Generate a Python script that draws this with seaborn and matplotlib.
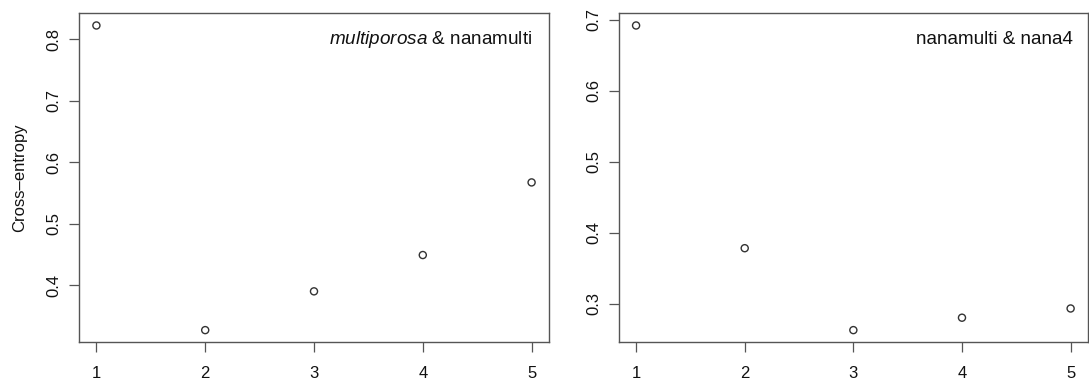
import matplotlib
matplotlib.use("Agg")
import matplotlib.pyplot as plt
import seaborn as sns
import pandas as pd

k_values = [1, 2, 3, 4, 5]
ce_left = [0.822, 0.327, 0.390, 0.449, 0.567]
ce_right = [0.692, 0.378, 0.2625, 0.280, 0.293]
label_left = r"$\it{multiporosa}$ & nanamulti"
label_right = "nanamulti & nana4"
yticks_left = [0.4, 0.5, 0.6, 0.7, 0.8]
yticks_right = [0.3, 0.4, 0.5, 0.6, 0.7]
ylabel = "Cross\u2013entropy"

sns.set_style("white")
plt.rcParams['font.family'] = ['Liberation Sans', 'DejaVu Sans']
plt.rcParams['mathtext.fontset'] = 'custom'
plt.rcParams['mathtext.rm'] = 'Liberation Sans'
plt.rcParams['mathtext.it'] = 'Liberation Sans:italic'

W, H = 1089, 387
fig = plt.figure(figsize=(W / 100, H / 100), dpi=100)
y0 = 1 - 342.3 / H
hgt = (342.3 - 13.3) / H
ax1 = fig.add_axes([79 / W, y0, (549 - 79) / W, hgt])
ax2 = fig.add_axes([618.7 / W, y0, (1088 - 618.7) / W, hgt])

frame_col = "#555555"
pt_col = "#333333"

def rlim(vals):
    lo, hi = min(vals), max(vals)
    r = hi - lo
    return lo - 0.04 * r, hi + 0.04 * r

for ax, vals, yt, lab, tx in [(ax1, ce_left, yticks_left, label_left, 0.965),
                              (ax2, ce_right, yticks_right, label_right, 0.968)]:
    df = pd.DataFrame({"k": k_values, "ce": vals})
    sns.scatterplot(data=df, x="k", y="ce", ax=ax, marker="o", s=26,
                    facecolor="none", edgecolor=pt_col, linewidth=1.0)
    ax.set_xlim(*rlim(k_values))
    ax.set_ylim(*rlim(vals))
    ax.set_xticks(k_values)
    ax.set_xticklabels([str(k) for k in k_values])
    ax.set_yticks(yt)
    ax.set_yticklabels([f"{v:.1f}" for v in yt], rotation=90, va="center")
    ax.set_xlabel("")
    ax.set_ylabel("")
    for sp in ax.spines.values():
        sp.set_color(frame_col)
        sp.set_linewidth(1.0)
    ax.tick_params(axis="both", direction="out", length=7.2, width=0.9,
                   color=frame_col, labelsize=12, labelcolor="#111111",
                   bottom=True, left=True)
    ax.tick_params(axis="x", pad=10)
    ax.tick_params(axis="y", pad=5.5)
    ax.text(tx, 0.92, lab, transform=ax.transAxes,
            ha="right", va="center", fontsize=13.6, color="#111111")

ax1.set_ylabel(ylabel, fontsize=12, color="#111111", labelpad=14)

fig.savefig("out.png", dpi=100)
